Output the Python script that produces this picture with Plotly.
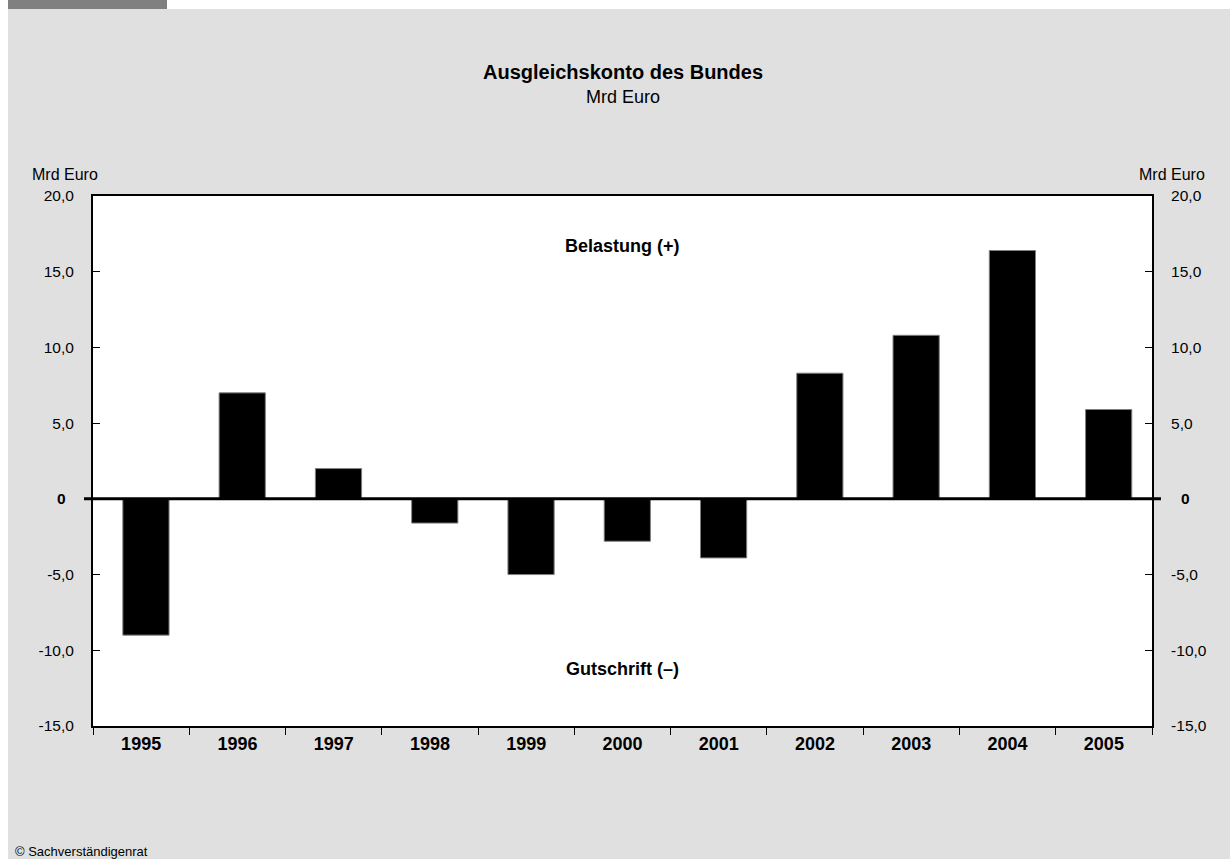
import plotly.graph_objects as go

years = ["1995", "1996", "1997", "1998", "1999", "2000", "2001", "2002", "2003", "2004", "2005"]
values = [-9.0, 7.0, 2.0, -1.6, -5.0, -2.8, -3.9, 8.3, 10.8, 16.4, 5.9]
ytick_vals = [-15, -10, -5, 0, 5, 10, 15, 20]
ytick_text = ["-15,0", "-10,0", "-5,0", "", "5,0", "10,0", "15,0", "20,0"]
zero_label = "<b>0</b>"

W, H = 1230, 859
L, R, T, B = 93, 1152, 196, 726
pw, ph = R - L, B - T

def px(x):
    return (x - L) / pw

def py(y):
    return (B - y) / ph

FONT = "Liberation Sans, Arial, Helvetica, sans-serif"

fig = go.Figure()
fig.add_trace(go.Bar(
    x=years, y=values, width=0.48, offset=-0.19,
    marker=dict(color="black", line=dict(color="#808080", width=1)),
    showlegend=False, hoverinfo="x+y",
))
fig.add_trace(go.Scatter(x=[years[0]], y=[0], yaxis="y2", mode="markers",
                         marker=dict(opacity=0, size=1), showlegend=False, hoverinfo="skip"))

axis_common = dict(range=[-15, 20], tickvals=ytick_vals, ticktext=ytick_text,
                   ticks="inside", ticklen=7, tickwidth=1, tickcolor="black",
                   showgrid=False, zeroline=False, showline=True, linecolor="black",
                   linewidth=2, tickfont=dict(family=FONT, size=15.5, color="black"))

fig.update_layout(
    width=W, height=H,
    margin=dict(l=L, r=W - R, t=T, b=H - B),
    paper_bgcolor="#e0e0e0", plot_bgcolor="white",
    font=dict(family=FONT, color="black"),
    xaxis=dict(type="category", range=[-0.5, len(years) - 0.5], tickvals=years,
               ticktext=["<b>%s</b>" % y for y in years],
               tickson="boundaries", ticks="outside", ticklen=7, tickwidth=1, tickcolor="black",
               showline=True, linecolor="black", linewidth=2, mirror=True, showgrid=False,
               tickfont=dict(family=FONT, size=18, color="black")),
    yaxis=dict(side="left", ticklabelstandoff=14, **axis_common),
    yaxis2=dict(side="right", overlaying="y", ticklabelstandoff=14, **axis_common),
)

shapes = [
    # white page strips
    dict(type="rect", xref="paper", yref="paper", x0=px(0), x1=px(8), y0=py(H), y1=py(0),
         fillcolor="white", line=dict(width=0), layer="below"),
    dict(type="rect", xref="paper", yref="paper", x0=px(167), x1=px(W), y0=py(9), y1=py(0),
         fillcolor="white", line=dict(width=0), layer="below"),
    dict(type="rect", xref="paper", yref="paper", x0=px(8), x1=px(167), y0=py(9), y1=py(0),
         fillcolor="#808080", line=dict(width=0), layer="below"),
    # zero line extending beyond plot
    dict(type="line", xref="paper", yref="y", x0=px(84), x1=px(1161), y0=0, y1=0,
         line=dict(color="black", width=3)),
]
fig.update_layout(shapes=shapes)

annotations = [
    dict(text="<b>Ausgleichskonto des Bundes</b>", x=0.5, y=py(72), xref="paper", yref="paper",
         showarrow=False, font=dict(size=20), xanchor="center", yanchor="middle"),
    dict(text="Mrd Euro", x=0.5, y=py(97), xref="paper", yref="paper",
         showarrow=False, font=dict(size=18), xanchor="center", yanchor="middle"),
    dict(text="Mrd Euro", x=px(30), y=py(174), xref="paper", yref="paper",
         showarrow=False, font=dict(size=16), xanchor="left", yanchor="middle"),
    dict(text="Mrd Euro", x=px(1207), y=py(174), xref="paper", yref="paper",
         showarrow=False, font=dict(size=16), xanchor="right", yanchor="middle"),
    dict(text=zero_label, x=px(68), y=0, xref="paper", yref="y",
         showarrow=False, font=dict(size=15.5), xanchor="right", yanchor="middle"),
    dict(text=zero_label, x=px(1179), y=0, xref="paper", yref="y",
         showarrow=False, font=dict(size=15.5), xanchor="left", yanchor="middle"),
    dict(text="<b>Belastung (+)</b>", x=0.5, y=py(246), xref="paper", yref="paper",
         showarrow=False, font=dict(size=18), xanchor="center", yanchor="middle"),
    dict(text="<b>Gutschrift (–)</b>", x=0.5, y=py(669), xref="paper", yref="paper",
         showarrow=False, font=dict(size=18), xanchor="center", yanchor="middle"),
    dict(text="© Sachverständigenrat", x=px(13), y=py(851), xref="paper", yref="paper",
         showarrow=False, font=dict(size=13), xanchor="left", yanchor="middle"),
]
fig.update_layout(annotations=annotations)

fig.write_html("out.html", config={"displayModeBar": False},
               post_script="document.body.style.margin='0';document.body.style.overflow='hidden';")
